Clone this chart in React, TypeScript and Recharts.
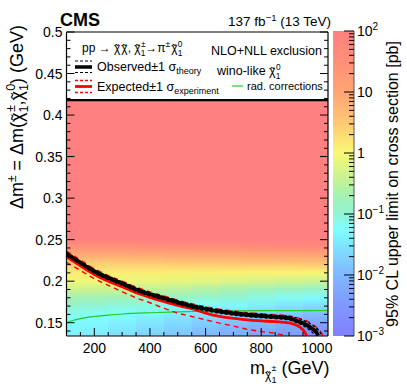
import React from "react";
import { ComposedChart, Line, XAxis, YAxis, ReferenceArea, ReferenceLine } from "recharts";

const FONT = "'Liberation Sans', Arial, Helvetica, sans-serif";

// axes
const MASS_RANGE = [100, 1040];
const DM_RANGE = [0.134, 0.5];
const LEGEND_FLOOR = 0.418;
const MASS_MAJOR = [200, 400, 600, 800, 1000];
const MASS_MINOR = [150, 250, 300, 350, 450, 500, 550, 650, 700, 750, 850, 900, 950];
const DM_MAJOR = [0.15, 0.2, 0.25, 0.3, 0.35, 0.4, 0.45, 0.5];
const DM_MINOR = Array.from({ length: 36 }, (_, i) => Math.round((0.14 + i * 0.01) * 100) / 100).filter(
  (v) => !DM_MAJOR.includes(v)
);
const Z_RANGE = [0.001, 100];
const Z_MAJOR = [0.001, 0.01, 0.1, 1, 10, 100];
const Z_LABELS = [["10", "-3"], ["10", "-2"], ["10", "-1"], ["1", ""], ["10", ""], ["10", "2"]];
const Z_MINOR = [-3, -2, -1, 0, 1].flatMap((d) => [2, 3, 4, 5, 6, 7, 8, 9].map((k) => Number((k * 10 ** d).toPrecision(2))));

// colour palette of the z axis (log10 pb)
const PALETTE_LOG = [-3, -2.5, -2, -1.55, -1.25, -1, -0.7, -0.45, 0, 0.5, 1, 1.5, 2];
const PALETTE_HEX = ["#8080ff", "#8098ff", "#80b8ff", "#80e0ff", "#80ffff", "#90f4d4", "#a4f2b4", "#c4f294", "#f8f874", "#ffc874", "#ffa474", "#ff9078", "#ff8080"];

// 95% CL limit map, log10(pb); one list per mass column, rows follow HEAT_DM
const HEAT_MASS = [100, 200, 300, 400, 500, 600, 700, 800, 900, 1000];
const HEAT_DM = [0.134, 0.14, 0.15, 0.16, 0.17, 0.18, 0.19, 0.2, 0.21, 0.22, 0.23, 0.24, 0.25];
const HEAT_LOG_LIMIT = [
  [-1.4, -1.35, -1.28, -1.15, -0.95, -0.7, -0.38, -0.05, 0.12, 0.4, 0.85, 1.35, 2.0],
  [-1.45, -1.4, -1.32, -1.2, -1.0, -0.72, -0.4, -0.07, 0.12, 0.4, 0.85, 1.4, 2.0],
  [-1.55, -1.5, -1.4, -1.25, -1.05, -0.75, -0.42, -0.1, 0.1, 0.42, 0.85, 1.4, 2.0],
  [-1.7, -1.62, -1.5, -1.33, -1.1, -0.8, -0.48, -0.12, 0.1, 0.42, 0.88, 1.45, 2.0],
  [-1.85, -1.78, -1.62, -1.42, -1.17, -0.86, -0.53, -0.15, 0.1, 0.44, 0.9, 1.45, 2.0],
  [-2.0, -1.92, -1.75, -1.52, -1.25, -0.93, -0.6, -0.2, 0.08, 0.45, 0.9, 1.5, 2.0],
  [-2.15, -2.06, -1.88, -1.62, -1.33, -1.0, -0.67, -0.25, 0.07, 0.46, 0.92, 1.5, 2.0],
  [-2.3, -2.2, -2.0, -1.72, -1.42, -1.08, -0.75, -0.3, 0.05, 0.47, 0.93, 1.55, 2.0],
  [-2.45, -2.35, -2.12, -1.82, -1.52, -1.17, -0.82, -0.35, 0.04, 0.48, 0.95, 1.55, 2.0],
  [-2.65, -2.55, -2.25, -1.95, -1.62, -1.3, -0.9, -0.4, 0.03, 0.5, 0.95, 1.6, 2.0],
];

// exclusion contours [mass GeV, delta m GeV]
const OBSERVED = [[100, 0.2328], [150, 0.2222], [200, 0.212], [250, 0.204], [300, 0.1972], [350, 0.19], [400, 0.1842], [450, 0.1795], [500, 0.1745], [550, 0.17], [600, 0.1665], [650, 0.1635], [700, 0.1612], [750, 0.1595], [800, 0.1582], [850, 0.157], [900, 0.1555], [930, 0.152], [960, 0.1478], [985, 0.1425], [998, 0.1385], [1005, 0.1345]];
const OBS_UP = [[100, 0.235], [150, 0.2244], [200, 0.2142], [250, 0.2062], [300, 0.1994], [350, 0.1922], [400, 0.1864], [450, 0.1817], [500, 0.1767], [550, 0.1722], [600, 0.1687], [650, 0.1657], [700, 0.1634], [750, 0.1617], [800, 0.1604], [850, 0.1592], [900, 0.1578], [940, 0.1545], [970, 0.15], [995, 0.1445], [1010, 0.1395], [1017, 0.1345]];
const OBS_DOWN = [[100, 0.2306], [150, 0.22], [200, 0.2098], [250, 0.2018], [300, 0.195], [350, 0.1878], [400, 0.182], [450, 0.1773], [500, 0.1723], [550, 0.1678], [600, 0.1643], [650, 0.1613], [700, 0.159], [750, 0.1573], [800, 0.156], [850, 0.1548], [900, 0.1532], [925, 0.1505], [950, 0.1465], [972, 0.1415], [985, 0.138], [993, 0.1345]];
const EXPECTED = [[100, 0.2296], [150, 0.2185], [200, 0.208], [250, 0.2], [300, 0.1932], [350, 0.1862], [400, 0.1805], [450, 0.1755], [500, 0.1708], [550, 0.1668], [600, 0.1615], [650, 0.1575], [700, 0.1553], [750, 0.1534], [800, 0.1522], [850, 0.1512], [900, 0.1498], [915, 0.1485], [940, 0.1445], [955, 0.1395], [963, 0.1345]];
const EXP_UP = [[100, 0.2362], [150, 0.2255], [200, 0.215], [250, 0.2068], [300, 0.2], [350, 0.193], [400, 0.1872], [450, 0.1822], [500, 0.1772], [550, 0.1728], [600, 0.1693], [650, 0.1663], [700, 0.164], [750, 0.1622], [800, 0.1608], [850, 0.1596], [900, 0.1582], [940, 0.155], [975, 0.15], [1000, 0.144], [1015, 0.1385], [1023, 0.1345]];
const EXP_DOWN = [[100, 0.2228], [150, 0.2128], [200, 0.203], [250, 0.195], [300, 0.1873], [350, 0.18], [400, 0.174], [450, 0.1675], [500, 0.1615], [550, 0.1575], [600, 0.1535], [650, 0.1495], [700, 0.146], [750, 0.142], [800, 0.1395], [850, 0.1372], [890, 0.1345]];
const RAD_CORR = [[100, 0.15], [125, 0.153], [150, 0.155], [200, 0.1575], [250, 0.1592], [300, 0.1605], [400, 0.162], [500, 0.163], [600, 0.1638], [700, 0.1642], [800, 0.1645], [900, 0.1646], [1040, 0.1647]];

const toRows = (pts: number[][]) => pts.map(([m, dm]) => ({ m, dm }));

function hexToRgb(h: string) {
  return [1, 3, 5].map((i) => parseInt(h.slice(i, i + 2), 16));
}

function colorOf(v: number) {
  const n = PALETTE_LOG.length;
  if (v <= PALETTE_LOG[0]) return PALETTE_HEX[0];
  if (v >= PALETTE_LOG[n - 1]) return PALETTE_HEX[n - 1];
  let i = 0;
  while (v > PALETTE_LOG[i + 1]) i++;
  const t = (v - PALETTE_LOG[i]) / (PALETTE_LOG[i + 1] - PALETTE_LOG[i]);
  const a = hexToRgb(PALETTE_HEX[i]);
  const b = hexToRgb(PALETTE_HEX[i + 1]);
  const c = a.map((x, k) => Math.round(x + (b[k] - x) * t));
  return `rgb(${c[0]},${c[1]},${c[2]})`;
}

const MassTick = (p: any) => {
  const v = p.payload.value;
  const major = MASS_MAJOR.includes(v);
  return (
    <g>
      <line x1={p.x} x2={p.x} y1={p.y} y2={p.y - (major ? 8 : 4)} stroke="#000" />
      {major && (
        <text x={p.x} y={p.y + 17} textAnchor="middle" fontSize={14} fontFamily={FONT} fill="#000">
          {v}
        </text>
      )}
    </g>
  );
};

const MassTopTick = (p: any) => {
  const major = MASS_MAJOR.includes(p.payload.value);
  return <line x1={p.x} x2={p.x} y1={p.y} y2={p.y + (major ? 8 : 4)} stroke="#000" />;
};

const DmTick = (p: any) => {
  const v = p.payload.value;
  const major = DM_MAJOR.includes(v);
  return (
    <g>
      <line x1={p.x} x2={p.x + (major ? 8 : 4)} y1={p.y} y2={p.y} stroke="#000" />
      {major && (
        <text x={p.x - 4} y={p.y + 5} textAnchor="end" fontSize={14} fontFamily={FONT} fill="#000">
          {String(v)}
        </text>
      )}
    </g>
  );
};

const DmRightTick = (p: any) => {
  const major = DM_MAJOR.includes(p.payload.value);
  return <line x1={p.x} x2={p.x - (major ? 8 : 4)} y1={p.y} y2={p.y} stroke="#000" />;
};

const ZTick = (p: any) => {
  const v = p.payload.value;
  const idx = Z_MAJOR.indexOf(v);
  const major = idx >= 0;
  return (
    <g>
      <line x1={p.x} x2={p.x - (major ? 10 : 5)} y1={p.y} y2={p.y} stroke="#000" />
      {major && (
        <text x={p.x + 3} y={p.y + 5} fontSize={14} fontFamily={FONT} fill="#000">
          {Z_LABELS[idx][0]}
          {Z_LABELS[idx][1] && (
            <tspan dy={-6} fontSize={10}>
              {Z_LABELS[idx][1].replace("-", "\u2212")}
            </tspan>
          )}
        </text>
      )}
    </g>
  );
};

// chi with a tilde on top, optional stacked super/subscript, then text continues on the baseline
function Chi({ sup = "", sub = "", size, after = "" }: { sup?: string; sub?: string; size: number; after?: string }) {
  const s = size * 0.7;
  return (
    <>
      <tspan>{"\u03c7"}</tspan>
      <tspan dx={-0.42 * size} fontSize={0.9 * size}>{"\u02dc"}</tspan>
      {sup || sub ? (
        <>
          <tspan dx={0.14 * size} dy={-size * 0.42} fontSize={s}>{sup}</tspan>
          <tspan fontSize={s} dx={-s * 0.58} dy={size * 0.72}>{sub}</tspan>
          <tspan fontSize={size} dy={-size * 0.3}>{after || "\u200a"}</tspan>
        </>
      ) : (
        <tspan fontSize={size} dx={0.12 * size}>{after || "\u200a"}</tspan>
      )}
    </>
  );
}

function Overlay() {
  return (
    <svg width={407} height={391} style={{ position: "absolute", left: 0, top: 0, pointerEvents: "none" }} fontFamily={FONT}>
      <text x={60} y={26} fontSize={18} fontWeight="bold">CMS</text>
      <text x={331} y={26} textAnchor="end" fontSize={13.5}>
        137 fb<tspan dy={-5} fontSize={9.5}>{"\u22121"}</tspan>
        <tspan dy={5}> (13 TeV)</tspan>
      </text>

      {/* legend */}
      <text x={82} y={52} fontSize={12}>
        pp {"\u2192"} <Chi size={12} />
        <Chi size={12} after=", " />
        <Chi sup={"\u00b1"} sub="1" size={12} after={"\u2192\u03c0"} />
        <tspan dy={-5} fontSize={8.5}>{"\u00b1"}</tspan>
        <tspan dy={5}>{"\u200a"}</tspan>
        <Chi sup="0" sub="1" size={12} />
      </text>
      <text x={322} y={54.5} textAnchor="end" fontSize={12.5}>NLO+NLL exclusion</text>
      <text x={217} y={75} fontSize={12.5}>
        wino-like <Chi sup="0" sub="1" size={12} />
      </text>

      <line x1={75} x2={92} y1={61} y2={61} stroke="#000" strokeWidth={1.2} strokeDasharray="3 2" />
      <line x1={75} x2={92} y1={67} y2={67} stroke="#000" strokeWidth={3.5} />
      <line x1={75} x2={92} y1={72.5} y2={72.5} stroke="#000" strokeWidth={1.2} strokeDasharray="3 2" />
      <text x={97} y={71} fontSize={12.5}>
        Observed{"\u00b1"}1 {"\u03c3"}
        <tspan dy={3} fontSize={9}>theory</tspan>
      </text>

      <line x1={75} x2={92} y1={80.5} y2={80.5} stroke="#ff0000" strokeWidth={1.3} strokeDasharray="3 2" />
      <line x1={75} x2={92} y1={86.5} y2={86.5} stroke="#ff0000" strokeWidth={2.8} />
      <line x1={75} x2={92} y1={92.5} y2={92.5} stroke="#ff0000" strokeWidth={1.3} strokeDasharray="3 2" />
      <text x={97} y={91} fontSize={12.5}>
        Expected{"\u00b1"}1 {"\u03c3"}
        <tspan dy={3} fontSize={9}>experiment</tspan>
      </text>

      <line x1={232} x2={243} y1={86} y2={86} stroke="#22cc22" strokeWidth={1.2} />
      <text x={247} y={90} fontSize={11}>rad. corrections</text>

      {/* axis titles */}
      <text transform="translate(23,117) rotate(-90)" textAnchor="middle" fontSize={18}>
        {"\u0394m"}
        <tspan dy={-7} fontSize={12}>{"\u00b1"}</tspan>
        <tspan dy={7}> = {"\u0394"}m(</tspan>
        <Chi sup={"\u00b1"} sub="1" size={18} after="," />
        <Chi sup="0" sub="1" size={18} after=") (GeV)" />
      </text>
      <text x={250} y={374} fontSize={18}>
        m
        <tspan dy={5} fontSize={12}>{"\u03c7"}</tspan>
        <tspan dx={-5} fontSize={11}>{"\u02dc"}</tspan>
        <tspan dx={1.5} dy={-8} fontSize={9}>{"\u00b1"}</tspan>
        <tspan dx={-5} dy={12} fontSize={9}>1</tspan>
        <tspan dy={-9} fontSize={18}> (GeV)</tspan>
      </text>
      <text transform="translate(398,184) rotate(-90)" textAnchor="middle" fontSize={16}>
        95% CL upper limit on cross section [pb]
      </text>
    </svg>
  );
}

export default function App() {
  const heatCols = HEAT_MASS.map((m, i) => ({
    id: `heat${i}`,
    x1: i === 0 ? MASS_RANGE[0] : (HEAT_MASS[i - 1] + m) / 2,
    x2: i === HEAT_MASS.length - 1 ? MASS_RANGE[1] : (m + HEAT_MASS[i + 1]) / 2 + 3,
    stops: HEAT_DM.map((dm, j) => ({
      offset: (dm - DM_RANGE[0]) / (LEGEND_FLOOR - DM_RANGE[0]),
      color: colorOf(HEAT_LOG_LIMIT[i][j]),
    })),
  }));
  const zLo = Math.log10(Z_RANGE[0]);
  const zHi = Math.log10(Z_RANGE[1]);

  return (
    <div style={{ position: "fixed", left: 0, top: 0, width: 407, height: 391, background: "#fff", fontFamily: FONT }}>
      <div style={{ position: "absolute", left: 0, top: 0 }}>
        <ComposedChart width={407} height={391} margin={{ top: 31, right: 78, bottom: 25, left: 6.5 }}>
          <defs>
            {heatCols.map((c) => (
              <linearGradient key={c.id} id={c.id} x1="0" y1="1" x2="0" y2="0">
                {c.stops.map((s, k) => (
                  <stop key={k} offset={s.offset} stopColor={s.color} />
                ))}
              </linearGradient>
            ))}
          </defs>
          <XAxis
            dataKey="m"
            type="number"
            domain={MASS_RANGE}
            allowDataOverflow
            ticks={[...MASS_MAJOR, ...MASS_MINOR]}
            interval={0}
            height={30}
            tickSize={0}
            tickMargin={0}
            tick={MassTick}
            axisLine={{ stroke: "#000", strokeWidth: 1.2 }}
            tickLine={false}
          />
          <XAxis
            xAxisId="top"
            orientation="top"
            type="number"
            domain={MASS_RANGE}
            allowDataOverflow
            ticks={[...MASS_MAJOR, ...MASS_MINOR]}
            interval={0}
            height={1}
            tickSize={0}
            tickMargin={0}
            tick={MassTopTick}
            axisLine={{ stroke: "#000", strokeWidth: 1.2 }}
            tickLine={false}
          />
          <YAxis
            type="number"
            domain={DM_RANGE}
            allowDataOverflow
            ticks={[...DM_MAJOR, ...DM_MINOR]}
            interval={0}
            width={60}
            tickSize={0}
            tickMargin={0}
            tick={DmTick}
            axisLine={{ stroke: "#000", strokeWidth: 1.2 }}
            tickLine={false}
          />
          <YAxis
            yAxisId="right"
            orientation="right"
            type="number"
            domain={DM_RANGE}
            allowDataOverflow
            ticks={[...DM_MAJOR, ...DM_MINOR]}
            interval={0}
            width={1}
            tickSize={0}
            tickMargin={0}
            tick={DmRightTick}
            axisLine={{ stroke: "#000", strokeWidth: 1.2 }}
            tickLine={false}
          />
          {heatCols.map((c) => (
            <ReferenceArea
              key={c.id}
              x1={c.x1}
              x2={c.x2}
              y1={DM_RANGE[0]}
              y2={LEGEND_FLOOR}
              fill={`url(#${c.id})`}
              fillOpacity={1}
              stroke="none"
              ifOverflow="hidden"
            />
          ))}
          <ReferenceArea x1={MASS_RANGE[0]} x2={MASS_RANGE[1]} y1={LEGEND_FLOOR} y2={DM_RANGE[1]} fill="#fff" fillOpacity={1} stroke="none" />
          <ReferenceLine y={LEGEND_FLOOR} stroke="#000" strokeWidth={2.2} />

          <Line data={toRows(RAD_CORR)} dataKey="dm" type="monotone" stroke="#22cc22" strokeWidth={1.2} dot={false} isAnimationActive={false} />
          <Line data={toRows(EXP_UP)} dataKey="dm" type="monotone" stroke="#ff0000" strokeWidth={1.4} strokeDasharray="5 4" dot={false} isAnimationActive={false} />
          <Line data={toRows(EXP_DOWN)} dataKey="dm" type="monotone" stroke="#ff0000" strokeWidth={1.4} strokeDasharray="5 4" dot={false} isAnimationActive={false} />
          <Line data={toRows(EXPECTED)} dataKey="dm" type="monotone" stroke="#ff0000" strokeWidth={2.8} dot={false} isAnimationActive={false} />
          <Line data={toRows(OBSERVED)} dataKey="dm" type="monotone" stroke="#000" strokeWidth={3.8} dot={false} isAnimationActive={false} />
          <Line data={toRows(OBS_UP)} dataKey="dm" type="monotone" stroke="#000" strokeWidth={1.2} strokeDasharray="3 2" dot={false} isAnimationActive={false} />
          <Line data={toRows(OBS_DOWN)} dataKey="dm" type="monotone" stroke="#000" strokeWidth={1.2} strokeDasharray="3 2" dot={false} isAnimationActive={false} />
        </ComposedChart>
      </div>

      {/* colour scale */}
      <div style={{ position: "absolute", left: 333, top: 0 }}>
        <ComposedChart width={74} height={391} data={[{ x: 0 }, { x: 1 }]} margin={{ top: 31, right: 0, bottom: 55, left: 0 }}>
          <defs>
            <linearGradient id="zbar" x1="0" y1="1" x2="0" y2="0">
              {PALETTE_LOG.map((v, k) => (
                <stop key={k} offset={(v - zLo) / (zHi - zLo)} stopColor={PALETTE_HEX[k]} />
              ))}
            </linearGradient>
          </defs>
          <XAxis dataKey="x" type="number" domain={[0, 1]} hide />
          <YAxis
            orientation="right"
            scale="log"
            type="number"
            domain={Z_RANGE}
            allowDataOverflow
            ticks={[...Z_MAJOR, ...Z_MINOR]}
            interval={0}
            width={53}
            tickSize={0}
            tickMargin={0}
            tick={ZTick}
            axisLine={{ stroke: "#555", strokeWidth: 1 }}
            tickLine={false}
          />
          <ReferenceArea x1={0} x2={1} y1={Z_RANGE[0]} y2={Z_RANGE[1]} fill="url(#zbar)" fillOpacity={1} stroke="none" />
        </ComposedChart>
      </div>

      <Overlay />
    </div>
  );
}
